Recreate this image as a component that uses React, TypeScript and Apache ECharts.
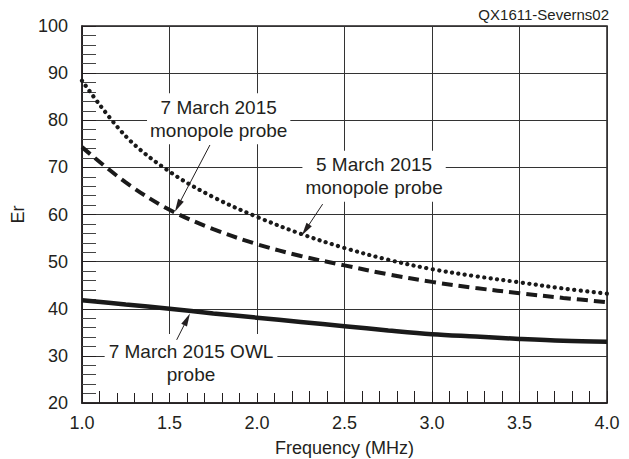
import React, { useEffect, useRef } from "react";
import * as echarts from "echarts";

// Frequency (MHz) sample points
const frequencyMHz = [1.0, 1.25, 1.5, 1.75, 2.0, 2.25, 2.5, 2.75, 3.0, 3.25, 3.5, 3.75, 4.0];
// Dotted curve
const monopoleDotted = [88.4, 76.6, 69.1, 63.7, 59.5, 55.9, 52.9, 50.4, 48.4, 46.9, 45.6, 44.3, 43.2];
// Dashed curve
const monopoleDashed = [74.3, 66.8, 61.0, 56.9, 53.7, 51.2, 49.2, 47.3, 45.7, 44.4, 43.3, 42.3, 41.4];
// Solid curve (OWL probe)
const owlSolid = [41.8, 40.9, 40.0, 39.0, 38.1, 37.2, 36.3, 35.4, 34.6, 34.1, 33.6, 33.2, 33.0];

const annotationTexts = ["7 March 2015\nmonopole probe", "5 March 2015\nmonopole probe", "7 March 2015 OWL\nprobe"];
const annotationAnchors = [[1.781, 80.3], [2.669, 68.1], [1.623, 28.4]];
const arrowStarts = [[1.731, 74.75], [2.375, 62.2], [1.541, 33.4]];
const arrowTips = [[1.531, 60.6], [2.257, 55.6], [1.617, 39.0]];

export default function App() {
  const ref = useRef<HTMLDivElement>(null);
  useEffect(() => {
    const chart = echarts.init(ref.current!, null, { renderer: "svg" });
    const font = "'Liberation Sans', Arial, Helvetica, sans-serif";
    const ink = "#231f20";
    const pts = (vals: number[]) => frequencyMHz.map((f, i) => [f, vals[i]]);

    chart.setOption({
      animation: false,
      backgroundColor: "#ffffff",
      grid: {
        left: 82, top: 26, right: 22, bottom: 56, containLabel: false, outerBoundsMode: "none",
        show: true, borderColor: ink, borderWidth: 1.5, backgroundColor: "transparent",
      },
      xAxis: {
        type: "value", min: 1, max: 4, interval: 0.5,
        name: "Frequency (MHz)", nameLocation: "middle", nameGap: 36,
        nameTextStyle: { fontSize: 18, color: ink, fontFamily: font },
        axisLine: { show: true, lineStyle: { color: ink, width: 1.5 } },
        axisTick: { show: true, inside: true, length: 12, lineStyle: { color: ink, width: 1 } },
        minorTick: { show: true, splitNumber: 5, length: 12, lineStyle: { color: ink, width: 1 } },
        axisLabel: { fontSize: 18, color: ink, fontFamily: font, margin: 11, formatter: (v: number) => v.toFixed(1) },
        splitLine: { show: true, lineStyle: { color: "#333", width: 1 } },
      },
      yAxis: {
        type: "value", min: 20, max: 100, interval: 10,
        name: "Er", nameLocation: "middle", nameGap: 38, nameRotate: 90,
        nameTextStyle: { fontSize: 18, color: ink, fontFamily: font },
        axisLine: { show: true, lineStyle: { color: ink, width: 1.5 } },
        axisTick: { show: true, inside: true, length: 14, lineStyle: { color: ink, width: 1 } },
        minorTick: { show: true, splitNumber: 5, length: 14, lineStyle: { color: "#444", width: 1 } },
        axisLabel: { fontSize: 18, color: ink, fontFamily: font, margin: 14 },
        splitLine: { show: true, lineStyle: { color: "#333", width: 1 } },
      },
      series: [
        {
          type: "line", name: "dotted", data: pts(monopoleDotted), smooth: 0.35, showSymbol: false, symbol: "none",
          lineStyle: { color: "#1a1a1a", width: 4.2, type: [0.1, 6.4], cap: "round" }, z: 3,
        },
        {
          type: "line", name: "dashed", data: pts(monopoleDashed), smooth: 0.35, showSymbol: false, symbol: "none",
          lineStyle: { color: "#1a1a1a", width: 4, type: [11, 6], cap: "butt" }, z: 3,
        },
        {
          type: "line", name: "solid", data: pts(owlSolid), smooth: 0.35, showSymbol: false, symbol: "none",
          lineStyle: { color: "#1a1a1a", width: 4.5 }, z: 3,
        },
      ],
    });

    const toPx = (p: number[]) => chart.convertToPixel({ gridIndex: 0 }, p) as number[];
    const graphics: any[] = [
      {
        type: "text", right: 20, top: 7,
        style: { text: "QX1611-Severns02", fontSize: 15, fontFamily: font, fill: ink },
      },
    ];
    annotationTexts.forEach((t, i) => {
      const [x, y] = toPx(annotationAnchors[i]);
      graphics.push({
        type: "text", x, y, z: 50,
        style: {
          text: t, fontSize: 19, fontFamily: font, fill: ink, align: "center", verticalAlign: "middle",
          lineHeight: 23, backgroundColor: "#ffffff", padding: i === 2 ? [1, 4, 12, 4] : [3, 3, 2, 3],
        },
      });
    });
    arrowStarts.forEach((s, i) => {
      const S = toPx(s);
      const T = toPx(arrowTips[i]);
      const dx = T[0] - S[0], dy = T[1] - S[1];
      const len = Math.hypot(dx, dy);
      const ux = dx / len, uy = dy / len;
      const nx = -uy, ny = ux;
      const hl = 13, hw = 3.2;
      const bx = T[0] - ux * hl, by = T[1] - uy * hl;
      graphics.push({
        type: "line", z: 60,
        shape: { x1: S[0], y1: S[1], x2: bx + ux * 2, y2: by + uy * 2 },
        style: { stroke: ink, lineWidth: 1 },
      });
      graphics.push({
        type: "polygon", z: 60,
        shape: { points: [[T[0], T[1]], [bx + nx * hw, by + ny * hw], [bx - nx * hw, by - ny * hw]] },
        style: { fill: ink },
      });
    });
    chart.setOption({ graphic: graphics });

    return () => chart.dispose();
  }, []);

  return <div ref={ref} style={{ position: "fixed", left: 0, top: 0, width: 629, height: 459 }} />;
}
